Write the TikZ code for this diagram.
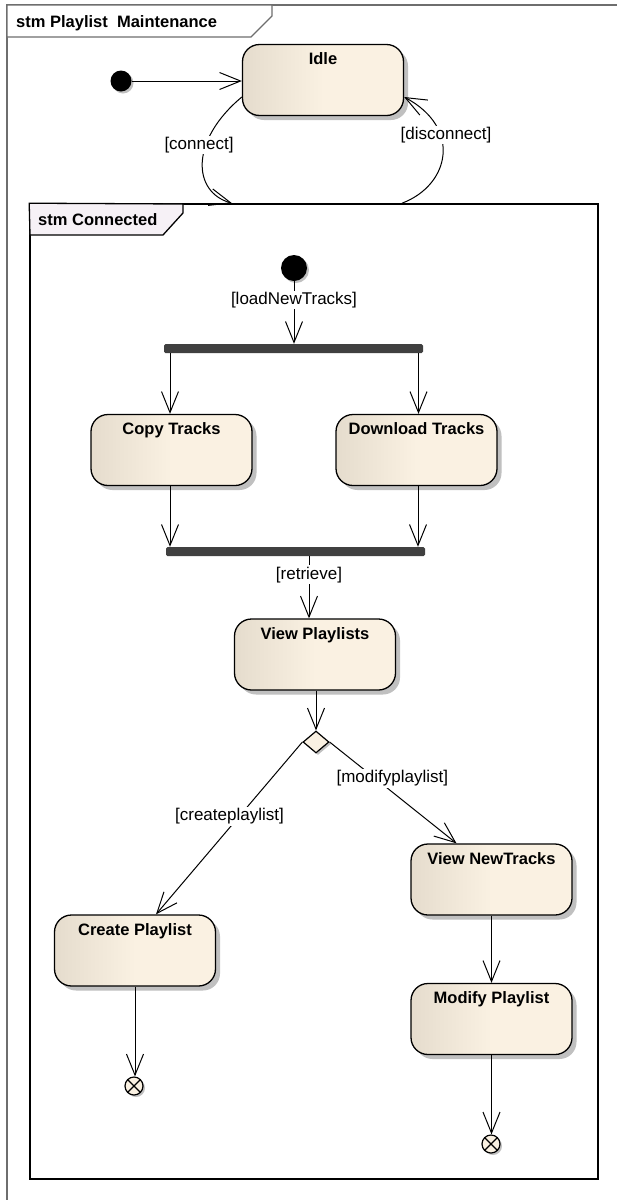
\documentclass[tikz,border=0pt]{standalone}
\usepackage{fontspec}
\setmainfont{Liberation Sans}
\usetikzlibrary{arrows.meta,shapes.geometric,shadows,calc}

\definecolor{stateL}{RGB}{229,220,205}
\definecolor{stateR}{RGB}{250,241,226}
\definecolor{shadowgray}{RGB}{192,192,192}
\definecolor{barfill}{RGB}{64,64,64}
\definecolor{tabfill}{RGB}{246,241,246}
\definecolor{framegray}{RGB}{110,110,110}

\newcommand{\sttitle}{\fontsize{16.5pt}{18pt}\selectfont\bfseries}
\newcommand{\stguard}{\fontsize{17pt}{19pt}\selectfont}

\tikzset{
  statebox/.style={draw=black, line width=1.3pt, rounded corners=17pt,
    minimum width=161pt, minimum height=71pt, inner sep=0pt,
    left color=stateL, right color=stateR, middle color=stateR,
    drop shadow={shadow xshift=4.5pt, shadow yshift=-4.5pt, fill=shadowgray, opacity=1},
    label={[anchor=base, yshift=-21pt, font=\sttitle]north:#1}},
  startdot/.style={circle, fill=black, minimum size=#1, inner sep=0pt,
    drop shadow={shadow xshift=2pt, shadow yshift=-2pt, fill=shadowgray, opacity=1}},
  finaldot/.style={circle, draw=black, line width=1.2pt, fill=stateR,
    minimum size=18pt, inner sep=0pt,
    drop shadow={shadow xshift=2pt, shadow yshift=-2pt, fill=shadowgray, opacity=1},
    path picture={\draw[line width=1.1pt]
      (path picture bounding box.south west) -- (path picture bounding box.north east)
      (path picture bounding box.north west) -- (path picture bounding box.south east);}},
  syncbar/.style={fill=barfill, minimum width=259pt, minimum height=9pt,
    inner sep=0pt, rounded corners=1.5pt},
  decision/.style={diamond, draw=black, line width=1.2pt, fill=stateR,
    minimum width=26pt, minimum height=22pt, inner sep=0pt,
    drop shadow={shadow xshift=2pt, shadow yshift=-2pt, fill=shadowgray, opacity=1}},
  guard/.style={font=\stguard, fill=white, inner sep=1.5pt},
  flow/.style={line width=1pt,
    -{Straight Barb[length=21pt, width=17pt, line width=1pt]}},
  tabtext/.style={font=\sttitle, anchor=base west, inner sep=0pt}
}

\begin{document}
\begin{tikzpicture}[x=1pt, y=-1pt]
  \useasboundingbox (0,0) rectangle (617,1200);
  \fill[white] (0,0) rectangle (617,1200);

  % outer frame and its tab
  \draw[framegray, line width=1.2pt] (7,1200) -- (7,5) -- (617,5);
  \draw[framegray, line width=1.2pt, fill=white]
    (7,5) -- (272,5) -- (272,16) -- (251,37) -- (7,37) -- cycle;
  \node[tabtext] (outertitle) at (16,27) {stm Playlist\ \ Maintenance};

  % composite state frame and its tab
  \node[draw=black, line width=1.6pt, minimum width=568pt, minimum height=975pt,
        inner sep=0pt] (conn) at (314,691.5) {};
  \draw[black, line width=1.3pt, fill=tabfill]
    (conn.north west) -- (183,204) -- (183,213) -- (163,235) -- (30,235) -- cycle;
  \node[tabtext] (conntitle) at (38,225) {stm Connected};

  % top level states
  \node[startdot=21pt] (init0) at (121,81) {};
  \node[statebox=Idle] (idle) at (323,80) {};

  % inner states
  \node[startdot=26pt] (init1) at (294,268) {};
  \node[syncbar] (fork) at (293.5,348.5) {};
  \node[statebox=Copy Tracks] (copy) at (171.5,450) {};
  \node[statebox=Download Tracks] (down) at (416.5,450) {};
  \node[syncbar] (join) at (295.5,551.5) {};
  \node[statebox=View Playlists] (vp) at (315,654.5) {};
  \node[decision] (dec) at (316,742) {};
  \node[statebox=View NewTracks] (vn) at (491.5,879.5) {};
  \node[statebox=Create Playlist] (cp) at (135,950.5) {};
  \node[statebox=Modify Playlist] (mp) at (491.5,1019) {};
  \node[finaldot] (fin1) at (134,1086) {};
  \node[finaldot] (fin2) at (491,1144) {};

  % top level transitions
  \draw[flow] (init0) -- (init0 -| idle.west);
  \draw[flow] ([yshift=-17pt]idle.west) .. controls (190,140) and (192,192) .. ([xshift=-82pt]conn.north);
  \node[guard] (gconnect) at (199,145) {[connect]};
  \draw[flow] ([xshift=88pt]conn.north) .. controls (450,185) and (462,128) .. ([yshift=-17pt]idle.east);
  \node[guard] (gdisconnect) at (446,135) {[disconnect]};

  % inner transitions
  \draw[flow] (init1) -- (init1 |- fork.north)
    node[guard, pos=0.3] {[loadNewTracks]};
  \draw[flow] ([xshift=-1.5pt]copy.north |- fork.south) -- ([xshift=-1.5pt]copy.north);
  \draw[flow] ([xshift=2pt]down.north |- fork.south) -- ([xshift=2pt]down.north);
  \draw[flow] ([xshift=-1.5pt]copy.south) -- ([xshift=-1.5pt]copy.south |- join.north);
  \draw[flow] ([xshift=1.5pt]down.south) -- ([xshift=1.5pt]down.south |- join.north);
  \draw[flow] ([xshift=-6pt]vp.north |- join.south) -- ([xshift=-6pt]vp.north)
    node[guard, pos=0.3] {[retrieve]};
  \draw[flow] ([xshift=1pt]vp.south) -- (dec.north);
  \draw[flow] (dec.west) -- ([xshift=21pt]cp.north)
    node[guard, pos=0.43, xshift=-10pt] {[createplaylist]};
  \draw[flow] (dec.east) -- ([xshift=-35pt]vn.north)
    node[guard, pos=0.36, xshift=17pt] {[modifyplaylist]};
  \draw[flow] (vn.south) -- (mp.north);
  \draw[flow] (cp.south) -- (cp.south |- fin1.north);
  \draw[flow] (mp.south) -- (mp.south |- fin2.north);
\end{tikzpicture}
\end{document}
